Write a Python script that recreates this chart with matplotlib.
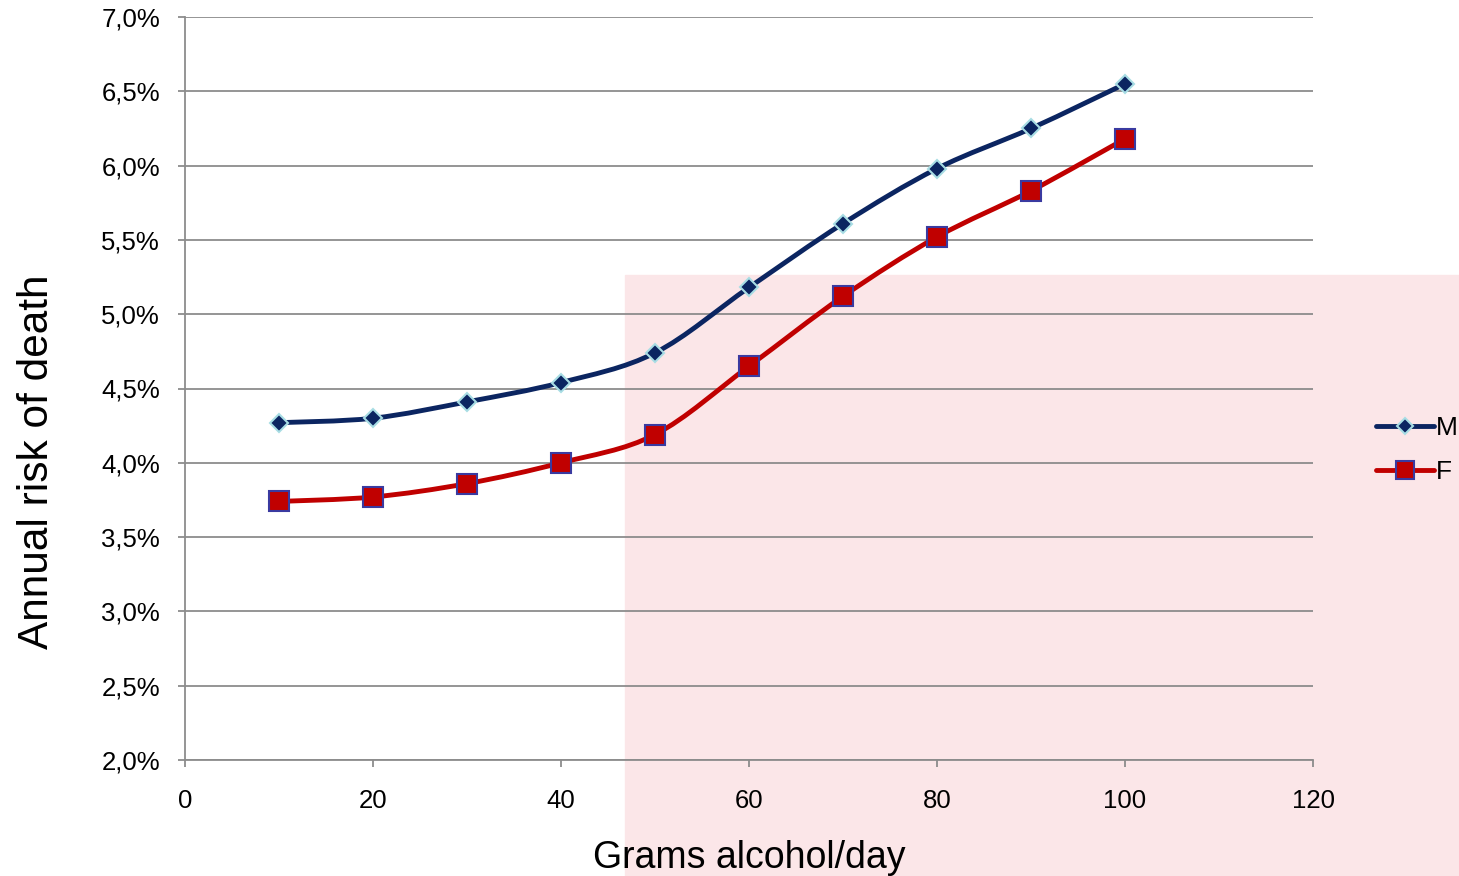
import matplotlib.pyplot as plt
import numpy as np
from matplotlib.path import Path
from matplotlib.patches import PathPatch, Rectangle

plt.rcParams['font.family'] = ['Liberation Sans', 'DejaVu Sans']

# data
grams = [10, 20, 30, 40, 50, 60, 70, 80, 90, 100]
risk_m = [4.27, 4.30, 4.41, 4.54, 4.74, 5.18, 5.61, 5.98, 6.25, 6.55]
risk_f = [3.74, 3.77, 3.86, 4.00, 4.19, 4.65, 5.12, 5.52, 5.83, 6.18]
y_ticks = [2.0, 2.5, 3.0, 3.5, 4.0, 4.5, 5.0, 5.5, 6.0, 6.5, 7.0]
x_ticks = [0, 20, 40, 60, 80, 100, 120]


def smooth_path(x, y):
    """Catmull-Rom style bezier path, like Excel's smoothed line."""
    pts = np.column_stack([x, y]).astype(float)
    ext = np.vstack([pts[0], pts, pts[-1]])
    verts = [pts[0]]
    codes = [Path.MOVETO]
    for i in range(1, len(ext) - 2):
        p0, p1, p2, p3 = ext[i - 1], ext[i], ext[i + 1], ext[i + 2]
        verts += [p1 + (p2 - p0) / 6, p2 - (p3 - p1) / 6, p2]
        codes += [Path.CURVE4] * 3
    return Path(verts, codes)


fig = plt.figure(figsize=(14.59, 8.76), dpi=100)
# faint pink watermark area
fig.patches.append(Rectangle((625 / 1459, 0), 834 / 1459, 1 - 275 / 876,
                             transform=fig.transFigure, color='#fbe6e8',
                             zorder=-10))
ax = fig.add_axes([185 / 1459, 1 - 760 / 876, 1128 / 1459, 743 / 876])
ax.set_facecolor('none')

series = [
    ('M', risk_m, '#0b2561', 'D', 9, '#a8dde4', 1.5),
    ('F', risk_f, '#c00000', 's', 14, '#3a3aa0', 1.5),
]
for name, vals, col, mk, ms, ec, mew in series:
    ax.add_patch(PathPatch(smooth_path(grams, vals), facecolor='none',
                           edgecolor=col, lw=3.5, zorder=3,
                           capstyle='round'))
    ax.plot(grams, vals, linestyle='none', marker=mk, ms=ms, mfc=col,
            mec=ec, mew=mew, zorder=4)
    # legend proxy
    ax.plot([], [], color=col, lw=3.5, marker=mk, ms=ms * 0.95, mfc=col,
            mec=ec, mew=mew, label=name, solid_capstyle='round')

ax.set_xlim(0, 120)
ax.set_ylim(2.0, 7.0)
ax.set_xticks(x_ticks)
ax.set_yticks(y_ticks)
ax.set_yticklabels([f'{v:.1f}%'.replace('.', ',') for v in y_ticks])
ax.yaxis.grid(True, color='#8c8c8c', lw=1.3)
ax.set_axisbelow(True)
for s in ['top', 'right']:
    ax.spines[s].set_visible(False)
for s in ['left', 'bottom']:
    ax.spines[s].set_color('#8c8c8c')
    ax.spines[s].set_linewidth(1.3)
ax.tick_params(axis='both', length=5, width=1.3, color='#8c8c8c',
               labelsize=18.5, labelcolor='black')
ax.tick_params(axis='y', pad=13)
ax.tick_params(axis='x', pad=16)

ax.set_xlabel('Grams alcohol/day', fontsize=27, labelpad=19)
ax.set_ylabel('Annual risk of death', fontsize=30.5, labelpad=32)
ax.yaxis.label.set_y((760 - 462) / 743)

leg = ax.legend(loc='center left', bbox_to_anchor=(1365 / 1459, 1 - 450 / 876),
                bbox_transform=fig.transFigure, frameon=False, fontsize=19,
                handlelength=2.2, handletextpad=0.1, labelspacing=0.75,
                borderaxespad=0)

fig.savefig('out.png', dpi=100)
